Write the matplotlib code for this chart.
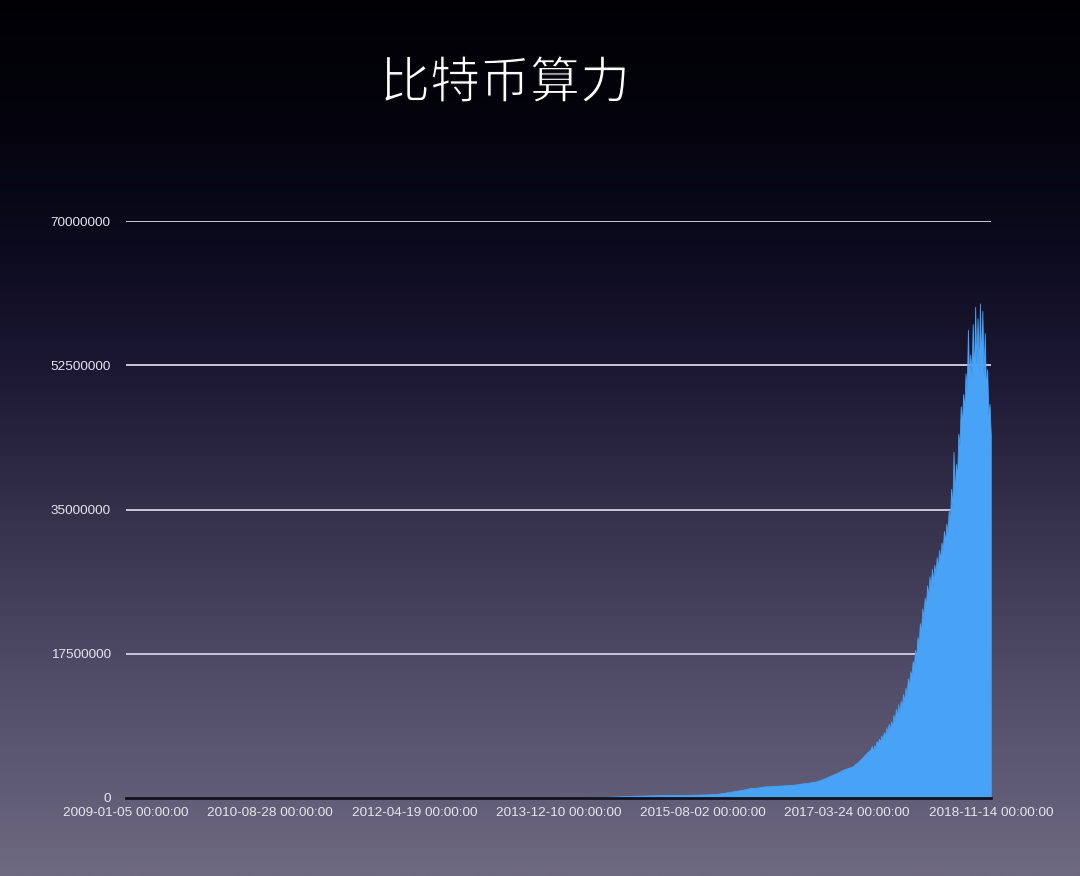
import matplotlib
matplotlib.use("Agg")
import matplotlib.pyplot as plt
import matplotlib.patheffects as pe
import numpy as np
import pandas as pd
from matplotlib.colors import LinearSegmentedColormap

plt.rcParams['font.family'] = ['Noto Sans CJK SC', 'DejaVu Sans']

# ---- data (hash rate, in millions of TH/s units) ----
early_dates = ["2009-01-05", "2010-01-01", "2011-01-01", "2012-01-01", "2013-01-01",
               "2013-07-01", "2013-12-10", "2014-03-01", "2014-06-01", "2014-09-01",
               "2014-12-01", "2015-03-01", "2015-06-01", "2015-08-01", "2015-10-01",
               "2015-11-15", "2015-12-15", "2016-01-15", "2016-02-15", "2016-03-15",
               "2016-04-15", "2016-05-15", "2016-06-15", "2016-07-15", "2016-08-15",
               "2016-09-15", "2016-10-15", "2016-11-15", "2016-12-15", "2017-01-15",
               "2017-02-15", "2017-03-15", "2017-04-15", "2017-05-15", "2017-06-15"]
early_values = [0.0, 0.0, 0.0, 0.00001, 0.00002,
                0.0002, 0.008, 0.04, 0.09, 0.22,
                0.30, 0.35, 0.38, 0.42, 0.50,
                0.70, 0.85, 1.00, 1.20, 1.25,
                1.40, 1.45, 1.50, 1.55, 1.60,
                1.75, 1.85, 2.00, 2.30, 2.70,
                3.10, 3.50, 3.80, 4.50, 5.50]

late_start = "2017-07-01"
late_step_days = 5
late_values = [5.9, 6.3, 5.7, 6.4, 6.1, 6.9, 6.6, 7.2, 6.8, 7.6,
               7.1, 8.0, 7.4, 8.6, 7.9, 9.0, 8.2, 9.3, 8.7, 10.1,
               9.2, 10.8, 9.9, 11.4, 10.2, 11.8, 11.0, 12.6, 11.7, 13.4,
               12.5, 14.5, 13.6, 15.4, 14.8, 16.6, 15.9, 18.0, 16.9, 19.5,
               18.6, 21.2, 20.1, 23.0, 21.9, 24.3, 23.2, 25.8, 24.4, 26.9,
               25.6, 27.8, 26.2, 28.3, 27.1, 29.2, 27.9, 30.1, 28.8, 31.0,
               29.9, 32.4, 31.0, 33.3, 32.1, 35.0, 33.4, 37.5, 35.2, 42.0,
               36.8, 40.5, 38.9, 44.2, 42.7, 47.5, 45.3, 49.0, 47.2, 51.5,
               49.3, 56.8, 50.6, 53.8, 51.4, 57.5, 50.8, 59.6, 52.3, 58.2,
               51.7, 60.0, 52.9, 59.1, 51.2, 56.4, 49.5, 52.0, 46.5, 47.8,
               44.0]

x_tick_labels = ["2009-01-05 00:00:00", "2010-08-28 00:00:00", "2012-04-19 00:00:00",
                 "2013-12-10 00:00:00", "2015-08-02 00:00:00", "2017-03-24 00:00:00",
                 "2018-11-14 00:00:00"]
y_ticks = [0, 17500000, 35000000, 52500000, 70000000]
title = "比特币算力"

# ---- assemble ----
late_dates = pd.date_range(late_start, periods=len(late_values), freq=f"{late_step_days}D")
dates = pd.to_datetime(early_dates).append(late_dates)
values = np.array(early_values + late_values) * 1e6

fig = plt.figure(figsize=(10.8, 8.76), dpi=100)

# background gradient
bg = fig.add_axes([0, 0, 1, 1], zorder=-10)
cmap = LinearSegmentedColormap.from_list("bg", [
    (0.0, "#000004"), (0.15, "#05040e"), (0.28, "#0c0a1e"), (0.42, "#1c1833"),
    (0.58, "#34304a"), (0.75, "#4d4864"), (0.9, "#615c76"), (1.0, "#6e6a80")])
grad = np.linspace(0, 1, 512).reshape(-1, 1)
bg.imshow(grad, aspect="auto", cmap=cmap, extent=[0, 1, 0, 1], origin="upper")
bg.axis("off")

ax = fig.add_axes([126/1080, 78/876, 865/1080, 577/876])
ax.set_facecolor("none")

ax.fill_between(dates, 0, values, color="#48a2f6", linewidth=0.6, edgecolor="#48a2f6", zorder=2)

x0 = pd.Timestamp("2009-01-05")
x1 = pd.Timestamp("2018-11-14")
ax.set_xlim(x0, x1)
ax.set_ylim(0, 70000000)

ax.set_yticks(y_ticks)
ax.set_yticklabels([str(v) for v in y_ticks])
ax.set_xticks(pd.to_datetime([s[:10] for s in x_tick_labels]))
ax.set_xticklabels(x_tick_labels)

for v in y_ticks[1:]:
    ax.axhline(v, color="#cac6d8", linewidth=1.4, zorder=1)

for s in ["top", "right", "left"]:
    ax.spines[s].set_visible(False)
ax.spines["bottom"].set_color("#15121f")
ax.spines["bottom"].set_linewidth(2)
ax.spines["bottom"].set_zorder(3)

ax.tick_params(axis="both", length=0, colors="#e6e4ee", labelsize=9.7)
ax.tick_params(axis="y", pad=11)
ax.tick_params(axis="x", pad=6.5)
for t in ax.get_xticklabels() + ax.get_yticklabels():
    t.set_family(["Liberation Sans", "DejaVu Sans"])

fig.text(505/1080, 1 - 84/876, title, color="white", fontsize=36, ha="center", va="center",
         family=["Noto Sans CJK SC", "DejaVu Sans"],
         path_effects=[pe.Normal(), pe.Stroke(linewidth=0.9, foreground="#020208")])

fig.savefig("out.png", dpi=100)
